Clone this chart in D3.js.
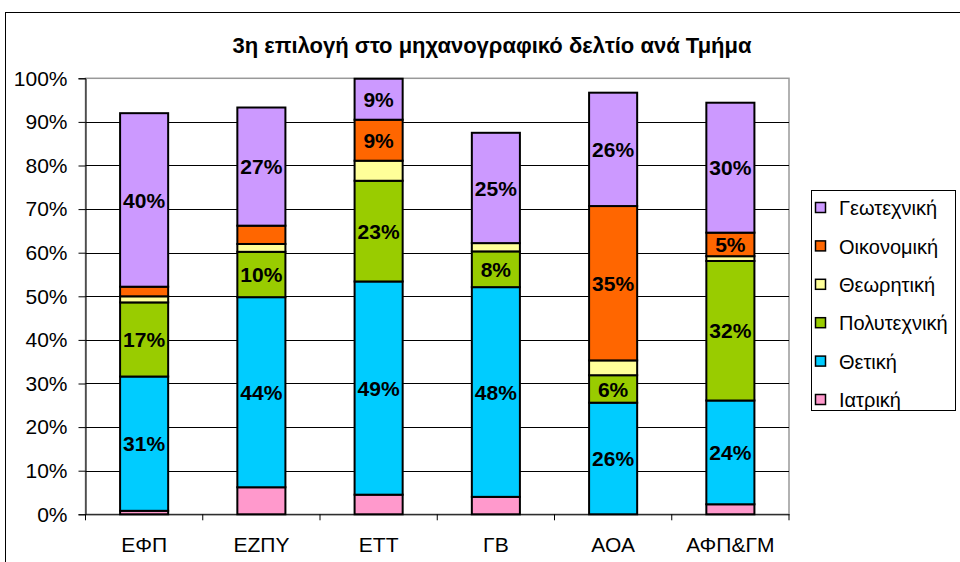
<!DOCTYPE html>
<html>
<head>
<meta charset="utf-8">
<script src="https://cdn.jsdelivr.net/npm/d3@7"></script>
<style>
  body { margin: 0; background: #fff; }
  svg { font-family: "Liberation Sans", Arial, sans-serif; }
</style>
</head>
<body>
<svg id="chart" width="960" height="562"></svg>
<script>
// categories (departments) and series, bottom to top of each stack
var departments = ["ΕΦΠ", "ΕΖΠΥ", "ΕΤΤ", "ΓΒ", "ΑΟΑ", "ΑΦΠ&ΓΜ"];
var seriesNames = ["Ιατρική", "Θετική", "Πολυτεχνική", "Θεωρητική", "Οικονομική", "Γεωτεχνική"];
var seriesColors = ["#FF99CC", "#00CCFF", "#99CC00", "#FFFF99", "#FF6600", "#CC99FF"];
// series that carry data labels in the original
var labelledSeries = ["Θετική", "Πολυτεχνική", "Οικονομική", "Γεωτεχνική"];

// percentages per series, in department order
var iatriki     = [0.8,  6.2,  4.5,  4.0,  0.0,  2.3];
var thetiki     = [30.8, 43.6, 48.9, 48.1, 25.6, 23.8];
var polytexniki = [17.0, 10.4, 23.1, 8.2,  6.3,  32.0];
var theoritiki  = [1.4,  1.8,  4.6,  1.9,  3.4,  1.1];
var oikonomiki  = [2.2,  4.2,  9.4,  0.0,  35.4, 5.4];
var geotexniki  = [39.8, 27.1, 9.4,  25.3, 26.0, 29.8];

var yTicks = [0, 10, 20, 30, 40, 50, 60, 70, 80, 90, 100];

var seriesValues = [iatriki, thetiki, polytexniki, theoritiki, oikonomiki, geotexniki];
var rows = departments.map(function (d, i) {
    var r = { dept: d };
    seriesNames.forEach(function (s, j) { r[s] = seriesValues[j][i]; });
    return r;
});

var svg = d3.select("#chart");
var margin = { left: 85.5, right: 789, top: 78.3, bottom: 514.3 };

// outer chart frame
svg.append("rect").attr("x", 5.5).attr("y", 12.5).attr("width", 980).attr("height", 600)
    .attr("fill", "#fff").attr("stroke", "#000").attr("stroke-width", 1);

svg.append("text").attr("x", 492).attr("y", 53).attr("text-anchor", "middle")
    .attr("font-size", 22).attr("font-weight", "bold")
    .text("3η επιλογή στο μηχανογραφικό δελτίο ανά Τμήμα");

var x = d3.scaleBand().domain(departments).range([margin.left, margin.right]).paddingInner(0.59).paddingOuter(0.295);
var y = d3.scaleLinear().domain([0, 100]).range([margin.bottom, margin.top]);

// plot area border (gray) and gridlines
svg.append("rect").attr("x", margin.left).attr("y", margin.top)
    .attr("width", margin.right - margin.left).attr("height", margin.bottom - margin.top)
    .attr("fill", "none").attr("stroke", "#999").attr("stroke-width", 1.5);

svg.append("g").selectAll("line").data(yTicks.slice(1, -1)).join("line")
    .attr("x1", margin.left).attr("x2", margin.right)
    .attr("y1", function (d) { return Math.round(y(d)) + 0.5; })
    .attr("y2", function (d) { return Math.round(y(d)) + 0.5; })
    .attr("stroke", "#000").attr("stroke-width", 1);

var yAxis = svg.append("g").attr("transform", "translate(" + margin.left + ",0)")
    .call(d3.axisLeft(y).tickValues(yTicks).tickSize(7).tickPadding(11).tickFormat(function (d) { return d + "%"; }));
yAxis.selectAll("text").attr("font-size", 21).attr("font-family", "Liberation Sans, Arial, sans-serif").attr("fill", "#000");
yAxis.select(".domain").attr("stroke", "#000");

var xAxis = svg.append("g").attr("transform", "translate(0," + margin.bottom + ")")
    .call(d3.axisBottom(x).tickSize(0).tickPadding(23));
xAxis.selectAll("text").attr("font-size", 21).attr("font-family", "Liberation Sans, Arial, sans-serif").attr("fill", "#000");
xAxis.select(".domain").attr("stroke", "#000");
// category separator ticks
svg.append("g").selectAll("line").data(d3.range(departments.length + 1)).join("line")
    .attr("x1", function (i) { return margin.left + i * x.step(); })
    .attr("x2", function (i) { return margin.left + i * x.step(); })
    .attr("y1", margin.bottom).attr("y2", margin.bottom + 6)
    .attr("stroke", "#000");

var stacked = d3.stack().keys(seriesNames)(rows);

var layers = svg.append("g").selectAll("g").data(stacked).join("g")
    .attr("fill", function (d, i) { return seriesColors[i]; });

layers.selectAll("rect").data(function (d) { return d.filter(function (p) { return p[1] - p[0] > 0; }); }).join("rect")
    .attr("x", function (d) { return x(d.data.dept); })
    .attr("width", x.bandwidth())
    .attr("y", function (d) { return y(d[1]); })
    .attr("height", function (d) { return y(d[0]) - y(d[1]); })
    .attr("stroke", "#000").attr("stroke-width", 2);

layers.selectAll("text").data(function (d) {
        if (labelledSeries.indexOf(d.key) < 0) return [];
        return d.filter(function (p) { return p[1] - p[0] >= 4.8; });
    }).join("text")
    .attr("x", function (d) { return x(d.data.dept) + x.bandwidth() / 2; })
    .attr("y", function (d) { return y((d[0] + d[1]) / 2); })
    .attr("dy", "0.36em")
    .attr("text-anchor", "middle")
    .attr("font-size", 21).attr("font-weight", "bold").attr("fill", "#000")
    .text(function (d) { return Math.round(d[1] - d[0]) + "%"; });

// legend, top entry is the top of the stack
var legend = svg.append("g");
legend.append("rect").attr("x", 811.5).attr("y", 190.5).attr("width", 144).attr("height", 220)
    .attr("fill", "#fff").attr("stroke", "#000");
var legendOrder = seriesNames.slice().reverse();
var legendColors = seriesColors.slice().reverse();
var items = legend.selectAll("g.item").data(legendOrder).join("g").attr("class", "item")
    .attr("transform", function (d, i) { return "translate(815," + (208 + i * 38.4) + ")"; });
items.append("rect").attr("x", 0.5).attr("y", -5.5).attr("width", 10).attr("height", 10)
    .attr("fill", function (d, i) { return legendColors[i]; })
    .attr("stroke", "#000").attr("stroke-width", 1.5);
items.append("text").attr("x", 24).attr("dy", "0.36em").attr("font-size", 20).text(function (d) { return d; });
</script>
</body>
</html>
